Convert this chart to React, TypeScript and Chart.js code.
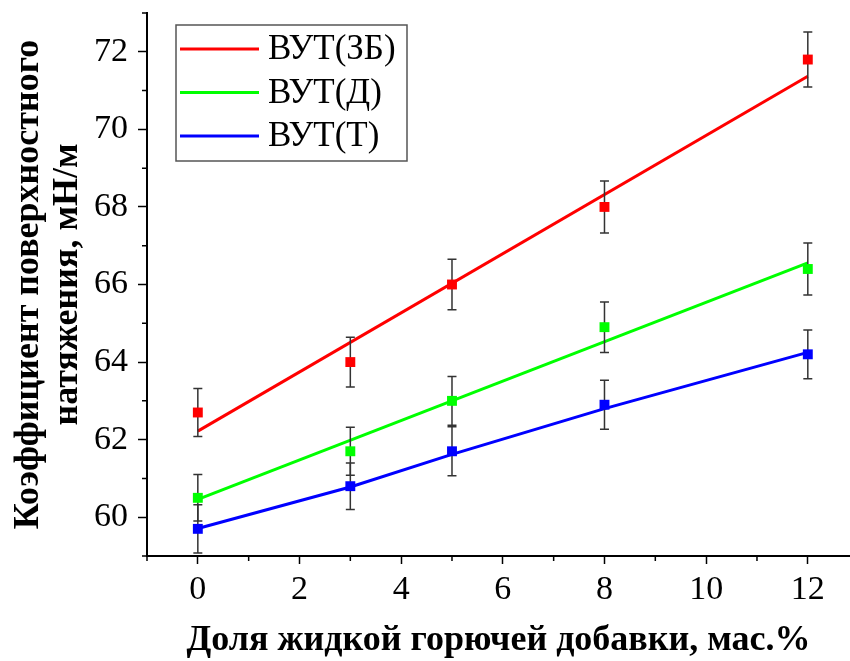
import React, { useEffect, useRef } from 'react';
import { Chart, registerables } from 'chart.js';

Chart.register(...registerables);

// ---- data ----
const xValues = [0, 3, 5, 8, 12];
const seriesNames = ['ВУТ(ЗБ)', 'ВУТ(Д)', 'ВУТ(Т)'];
const seriesColors = ['#ff0000', '#00ff00', '#0000ff'];

const valuesZB = [62.7, 64.0, 66.0, 68.0, 71.8];
const valuesD = [60.5, 61.7, 63.0, 64.9, 66.4];
const valuesT = [59.7, 60.8, 61.7, 62.9, 64.2];

const errorsZB = [0.62, 0.64, 0.65, 0.67, 0.71];
const errorsD = [0.6, 0.62, 0.63, 0.65, 0.67];
const errorsT = [0.62, 0.6, 0.63, 0.63, 0.63];

const fitXZB = [0, 12];
const fitZB = [62.22, 71.37];
const fitXD = [0, 12];
const fitD = [60.46, 66.56];
const fitXT = [0, 3, 5, 8, 12];
const fitT = [59.71, 60.78, 61.62, 62.8, 64.25];

const xMajorTicks = [0, 2, 4, 6, 8, 10, 12];
const xMinorTicks = [-1, 1, 3, 5, 7, 9, 11];
const yMajorTicks = [60, 62, 64, 66, 68, 70, 72];
const yMinorTicks = [59, 61, 63, 65, 67, 69, 71, 73];

const xTitle = 'Доля жидкой горючей добавки, мас.%';
const yTitle = ['Коэффициент поверхностного', 'натяжения, мН/м'];

const FONT = "'Liberation Serif', 'Times New Roman', serif";

const pts = (xs: number[], ys: number[]) => xs.map((x, i) => ({ x, y: ys[i] }));

const zeroPadding = (s: any) => {
  s.paddingLeft = 0;
  s.paddingRight = 0;
  s.paddingTop = 0;
  s.paddingBottom = 0;
};

const errorBarPlugin = {
  id: 'errorBars',
  beforeDatasetDraw(chart: any, args: any) {
    const ds = chart.data.datasets[args.index];
    if (!ds.errors) return;
    const { ctx } = chart;
    const xs = chart.scales.x;
    const ys = chart.scales.y;
    ctx.save();
    ctx.strokeStyle = '#333333';
    ctx.lineWidth = 1.5;
    ds.data.forEach((p: any, i: number) => {
      const e = ds.errors[i];
      const px = xs.getPixelForValue(p.x);
      const top = ys.getPixelForValue(p.y + e);
      const bot = ys.getPixelForValue(p.y - e);
      ctx.beginPath();
      ctx.moveTo(px, top);
      ctx.lineTo(px, bot);
      ctx.moveTo(px - 4.5, top);
      ctx.lineTo(px + 4.5, top);
      ctx.moveTo(px - 4.5, bot);
      ctx.lineTo(px + 4.5, bot);
      ctx.stroke();
    });
    ctx.restore();
  },
};

const minorTickPlugin = {
  id: 'minorTicks',
  afterDraw(chart: any) {
    const { ctx, chartArea } = chart;
    const xs = chart.scales.x;
    const ys = chart.scales.y;
    ctx.save();
    ctx.strokeStyle = '#000';
    ctx.lineWidth = 1.5;
    ctx.beginPath();
    xMinorTicks.forEach((v) => {
      const px = xs.getPixelForValue(v);
      ctx.moveTo(px, chartArea.bottom);
      ctx.lineTo(px, chartArea.bottom + 5);
    });
    yMinorTicks.forEach((v) => {
      const py = ys.getPixelForValue(v);
      ctx.moveTo(chartArea.left, py);
      ctx.lineTo(chartArea.left - 5, py);
    });
    ctx.stroke();
    ctx.restore();
  },
};

const legendPlugin = {
  id: 'boxLegend',
  afterDraw(chart: any) {
    const { ctx, chartArea } = chart;
    const bx = chartArea.left + 29;
    const by = chartArea.top + 12;
    const bw = 231;
    const bh = 136;
    ctx.save();
    ctx.fillStyle = '#ffffff';
    ctx.fillRect(bx, by, bw, bh);
    ctx.strokeStyle = '#555555';
    ctx.lineWidth = 1.5;
    ctx.strokeRect(bx, by, bw, bh);
    ctx.font = `35px ${FONT}`;
    ctx.textBaseline = 'middle';
    ctx.textAlign = 'left';
    seriesNames.forEach((name, i) => {
      const cy = by + 24 + i * 43.5;
      ctx.strokeStyle = seriesColors[i];
      ctx.lineWidth = 3;
      ctx.beginPath();
      ctx.moveTo(bx + 4, cy);
      ctx.lineTo(bx + 83, cy);
      ctx.stroke();
      ctx.fillStyle = '#000';
      ctx.fillText(name, bx + 92, cy + 1);
    });
    ctx.restore();
  },
};

export default function App() {
  const ref = useRef<HTMLCanvasElement | null>(null);

  useEffect(() => {
    document.body.style.margin = '0';
    const canvas = ref.current;
    if (!canvas) return;

    const values = [valuesZB, valuesD, valuesT];
    const errors = [errorsZB, errorsD, errorsT];
    const fits = [pts(fitXZB, fitZB), pts(fitXD, fitD), pts(fitXT, fitT)];

    const pointSets = values.map((v, i) => ({
      type: 'scatter',
      label: seriesNames[i],
      data: pts(xValues, v),
      errors: errors[i],
      showLine: false,
      pointStyle: 'rect',
      pointRadius: 7,
      pointBackgroundColor: seriesColors[i],
      pointBorderColor: seriesColors[i],
      pointBorderWidth: 0,
      order: 0,
    }));
    const lineSets = fits.map((f, i) => ({
      type: 'line',
      label: seriesNames[i],
      data: f,
      borderColor: seriesColors[i],
      borderWidth: 3,
      pointRadius: 0,
      tension: 0,
      fill: false,
      order: 0,
    }));

    const chart = new Chart(canvas, {
      type: 'scatter',
      data: { datasets: [...pointSets, ...lineSets] as any },
      options: {
        animation: false,
        responsive: true,
        maintainAspectRatio: false,
        layout: { autoPadding: false, padding: { top: 13, right: 0, left: 0, bottom: 0 } },
        plugins: {
          legend: { display: false },
          tooltip: { enabled: false },
        },
        scales: {
          x: {
            type: 'linear',
            position: 'bottom',
            min: -1,
            max: 12.83,
            afterBuildTicks: (s: any) => {
              s.ticks = xMajorTicks.map((v) => ({ value: v }));
            },
            afterFit: (s: any) => {
              s.height = 105;
              zeroPadding(s);
            },
            ticks: {
              color: '#000',
              font: { family: FONT, size: 34 },
              padding: 6,
              maxRotation: 0,
              autoSkip: false,
            },
            grid: {
              drawOnChartArea: false,
              drawTicks: true,
              tickLength: 8,
              tickColor: '#000',
              tickWidth: 1.5,
            },
            border: { display: true, color: '#000', width: 2 },
            title: {
              display: true,
              text: xTitle,
              color: '#000',
              font: { family: FONT, size: 36, weight: 'bold', lineHeight: 1.083 },
              padding: { top: 0, bottom: 1 },
            },
          },
          y: {
            type: 'linear',
            min: 59,
            max: 73,
            afterBuildTicks: (s: any) => {
              s.ticks = yMajorTicks.map((v) => ({ value: v }));
            },
            afterFit: (s: any) => {
              s.width = 147;
              zeroPadding(s);
            },
            ticks: {
              color: '#000',
              font: { family: FONT, size: 34 },
              padding: 10,
              autoSkip: false,
            },
            grid: {
              drawOnChartArea: false,
              drawTicks: true,
              tickLength: 9,
              tickColor: '#000',
              tickWidth: 1.5,
            },
            border: { display: true, color: '#000', width: 2 },
            title: {
              display: true,
              text: yTitle,
              color: '#000',
              font: { family: FONT, size: 36, weight: 'bold', lineHeight: 1.083 },
              padding: { top: 9.5, bottom: 0 },
            },
          },
        },
      } as any,
      plugins: [errorBarPlugin, minorTickPlugin, legendPlugin],
    });

    return () => chart.destroy();
  }, []);

  return (
    <div style={{ width: 850, height: 661, position: 'relative', background: '#fff' }}>
      <canvas ref={ref} />
    </div>
  );
}
